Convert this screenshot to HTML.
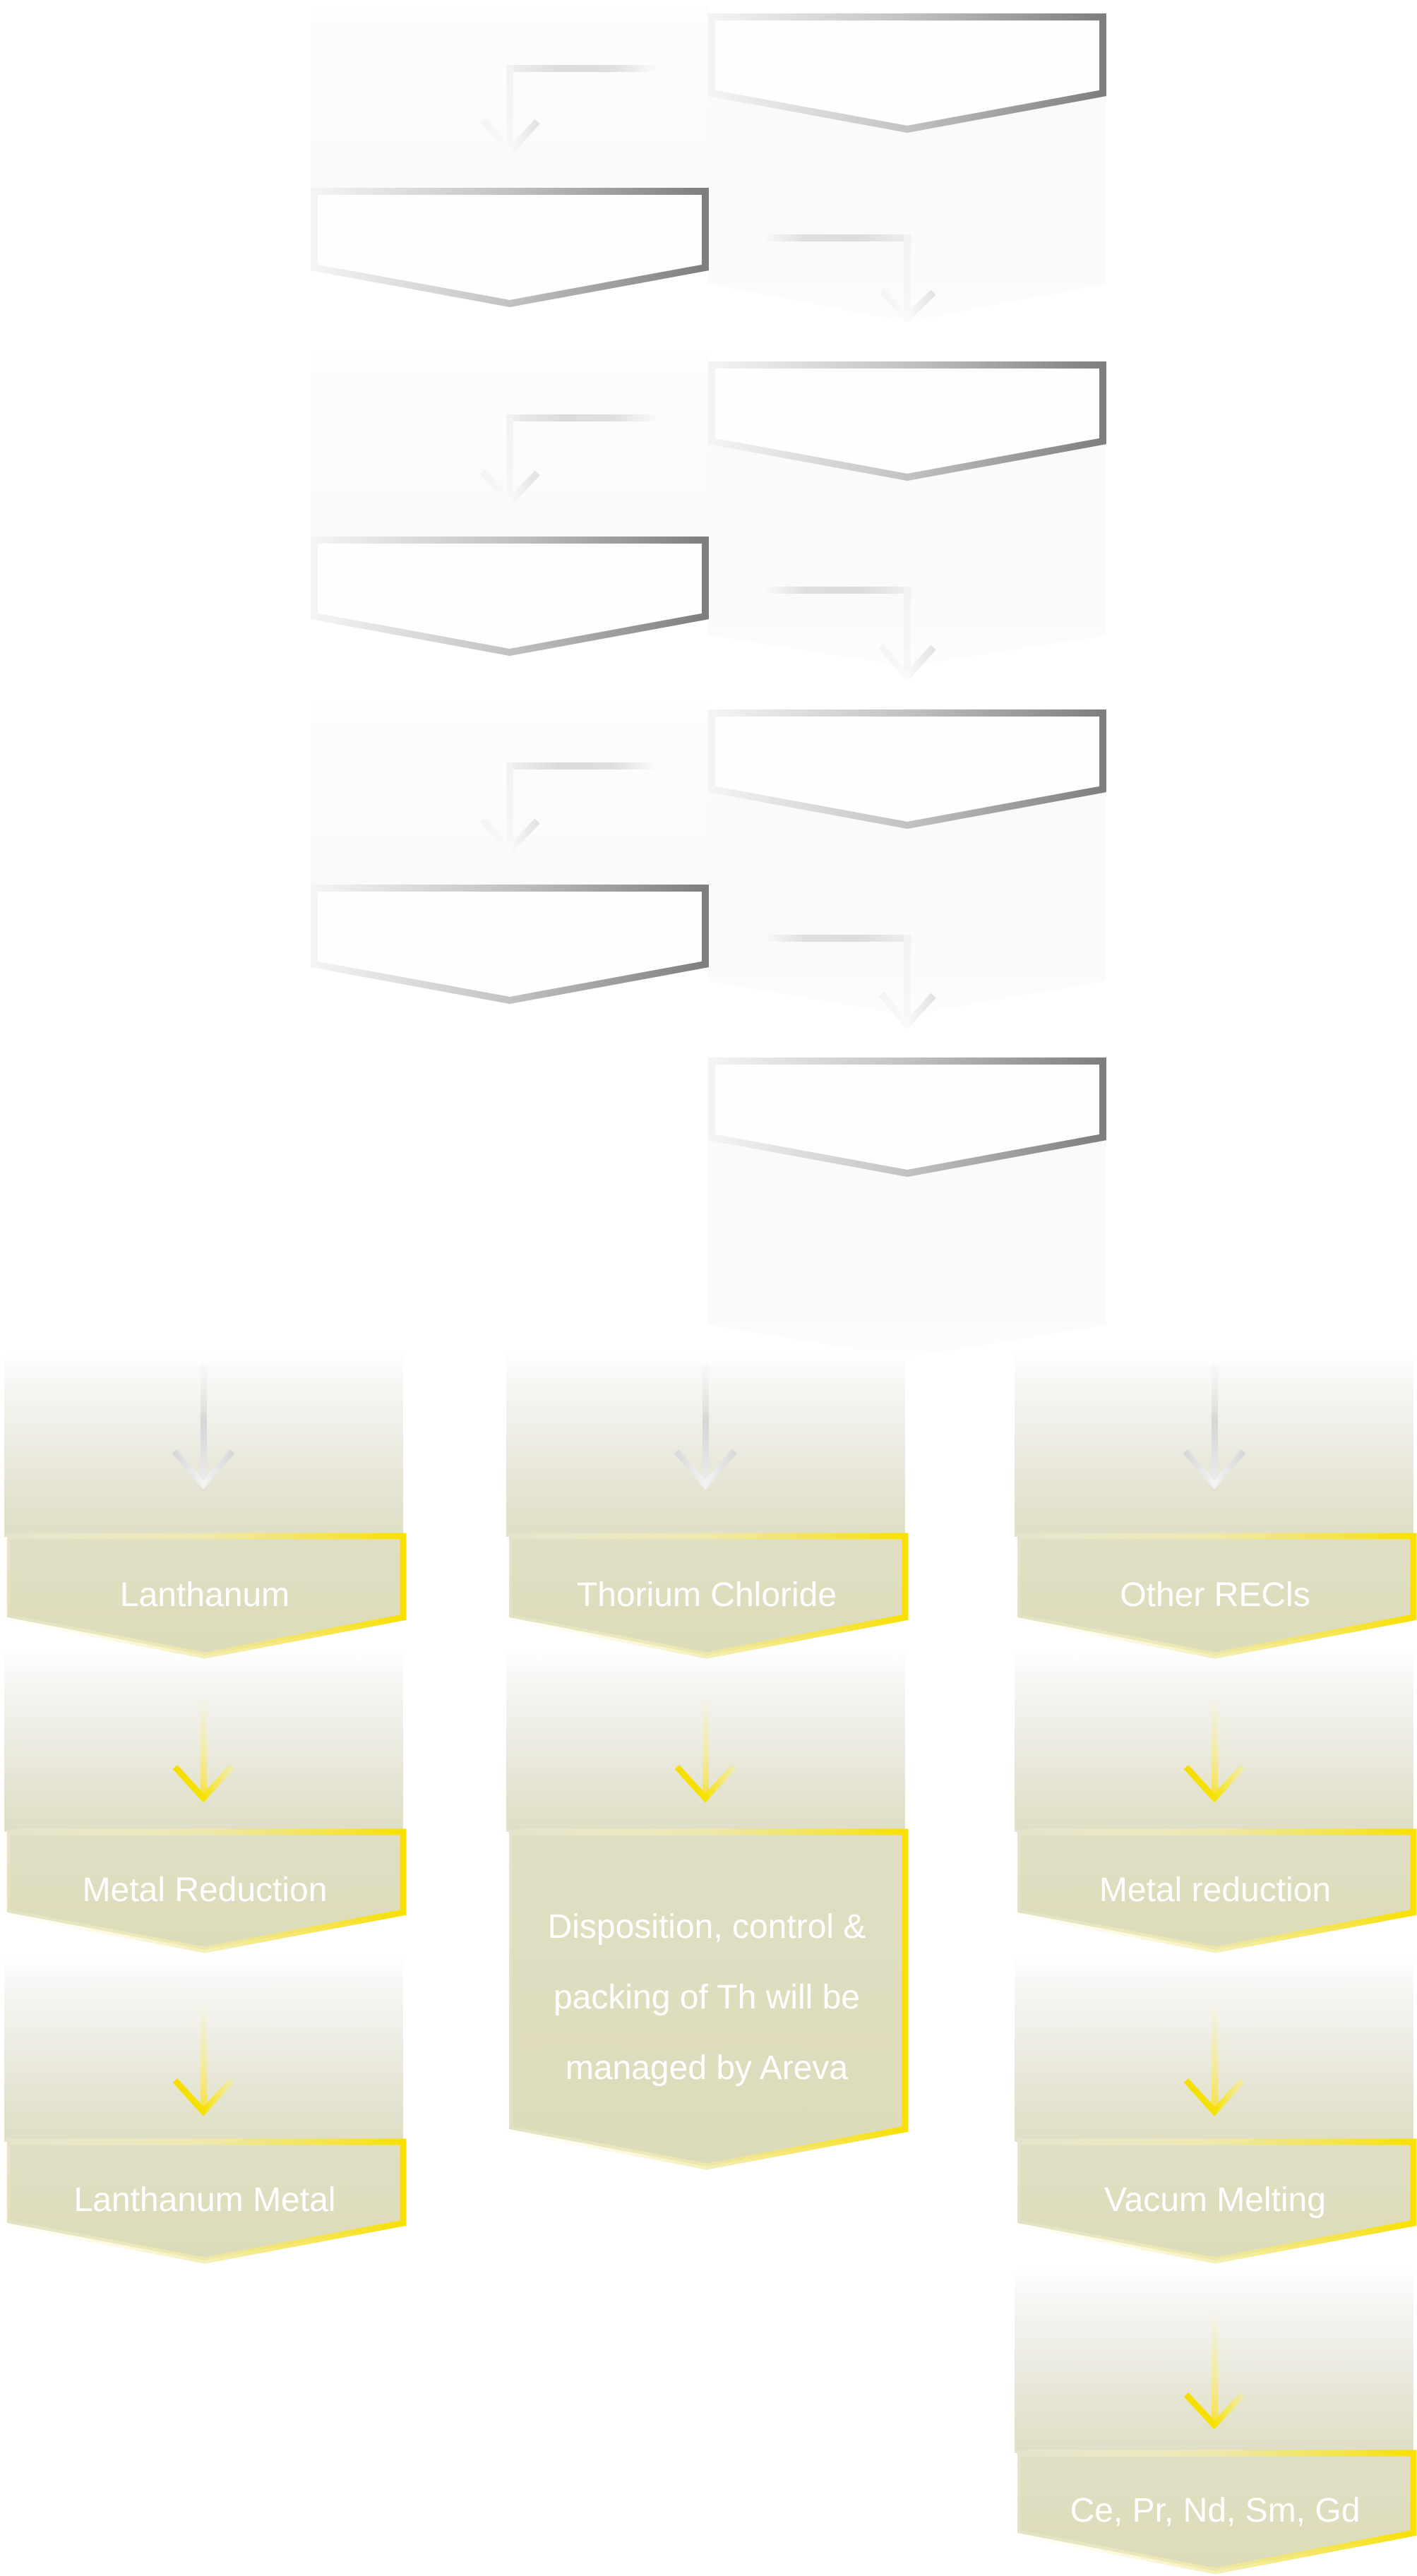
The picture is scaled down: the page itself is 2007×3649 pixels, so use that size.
<!DOCTYPE html>
<html>
<head>
<meta charset="utf-8">
<style>
  html,body{margin:0;padding:0;background:#ffffff;}
  svg{display:block;}
  .lbl{font-family:"Liberation Sans",Arial,sans-serif;font-size:48px;fill:#ffffff;text-anchor:middle;}
  .glbl{font-family:"Liberation Sans",Arial,sans-serif;font-size:46px;fill:#fdfdfd;text-anchor:middle;}
</style>
</head>
<body>
<svg width="2007" height="3649" viewBox="0 0 2007 3649" xmlns="http://www.w3.org/2000/svg">
  <defs>
    <linearGradient id="gStroke" x1="0" y1="0" x2="1" y2="0">
      <stop offset="0" stop-color="#f4f4f4"/>
      <stop offset="0.5" stop-color="#c2c2c2"/>
      <stop offset="1" stop-color="#7e7e7e"/>
    </linearGradient>
    <linearGradient id="gPanelL" x1="0" y1="0" x2="0" y2="1">
      <stop offset="0" stop-color="#fdfdfd"/>
      <stop offset="1" stop-color="#f9f9f9"/>
    </linearGradient>
    <linearGradient id="gPanelR" x1="0" y1="0" x2="0" y2="1">
      <stop offset="0" stop-color="#fafafa"/>
      <stop offset="0.8" stop-color="#fafafa"/>
      <stop offset="1" stop-color="#fdfdfd"/>
    </linearGradient>
    <linearGradient id="gHlineL" x1="0" y1="0" x2="1" y2="0">
      <stop offset="0" stop-color="#efefef"/>
      <stop offset="0.35" stop-color="#dcdcdc"/>
      <stop offset="0.7" stop-color="#dedede"/>
      <stop offset="1" stop-color="#fbfbfb"/>
    </linearGradient>
    <linearGradient id="gHlineR" x1="0" y1="0" x2="1" y2="0">
      <stop offset="0" stop-color="#fbfbfb"/>
      <stop offset="0.3" stop-color="#dedede"/>
      <stop offset="0.65" stop-color="#dcdcdc"/>
      <stop offset="1" stop-color="#efefef"/>
    </linearGradient>
    <linearGradient id="gHeadTop" x1="0" y1="0" x2="1" y2="0">
      <stop offset="0" stop-color="#f4f4f4"/>
      <stop offset="0.5" stop-color="#fafafa"/>
      <stop offset="1" stop-color="#e2e2e2"/>
    </linearGradient>
    <linearGradient id="gYStroke" x1="0" y1="0" x2="1" y2="0">
      <stop offset="0" stop-color="#fffce0" stop-opacity="0.15"/>
      <stop offset="0.5" stop-color="#f2eaa6" stop-opacity="0.8"/>
      <stop offset="1" stop-color="#f8e000"/>
    </linearGradient>
    <linearGradient id="gBPanel" x1="0" y1="0" x2="0" y2="1">
      <stop offset="0" stop-color="#ffffff"/>
      <stop offset="0.15" stop-color="#f7f7f5"/>
      <stop offset="0.45" stop-color="#eeede5"/>
      <stop offset="0.75" stop-color="#e5e4d2"/>
      <stop offset="1" stop-color="#dfdec5"/>
    </linearGradient>
    <linearGradient id="gBoxFill" x1="0" y1="0" x2="0" y2="1">
      <stop offset="0" stop-color="#e0dfc4"/>
      <stop offset="1" stop-color="#dcdbb9"/>
    </linearGradient>
    <linearGradient id="gGrayV" x1="0" y1="0" x2="0" y2="1">
      <stop offset="0" stop-color="#f4f4f4" stop-opacity="0.3"/>
      <stop offset="0.5" stop-color="#d6d6d6"/>
      <stop offset="1" stop-color="#ebebeb"/>
    </linearGradient>
    <linearGradient id="gGrayHead" x1="0" y1="0" x2="1" y2="0">
      <stop offset="0" stop-color="#d8d8d8"/>
      <stop offset="0.5" stop-color="#f3f3f3"/>
      <stop offset="1" stop-color="#d8d8d8"/>
    </linearGradient>
    <linearGradient id="gYellowV" x1="0" y1="0" x2="0" y2="1">
      <stop offset="0" stop-color="#f8f2b0" stop-opacity="0"/>
      <stop offset="0.6" stop-color="#f5eb95" stop-opacity="0.8"/>
      <stop offset="1" stop-color="#f6e14a"/>
    </linearGradient>
    <linearGradient id="gYellowHead" x1="0" y1="0" x2="1" y2="0">
      <stop offset="0" stop-color="#f6dd00"/>
      <stop offset="0.5" stop-color="#f6e200"/>
      <stop offset="1" stop-color="#f3eca6" stop-opacity="0.8"/>
    </linearGradient>
    <linearGradient id="gFaintV" x1="0" y1="0" x2="0" y2="1">
      <stop offset="0" stop-color="#f2f2f2"/>
      <stop offset="1" stop-color="#f7f7f7"/>
    </linearGradient>
  </defs>

  <!-- ================= TOP GREY SECTION ================= -->
  <rect x="440" y="8" width="564" height="320" fill="url(#gPanelL)"/>
  <rect x="440" y="502" width="564" height="320" fill="url(#gPanelL)"/>
  <rect x="440" y="995" width="564" height="320" fill="url(#gPanelL)"/>

  <polygon points="1003,129 1567,129 1567,402 1285,456 1003,402" fill="url(#gPanelR)"/>
  <polygon points="1003,622 1567,622 1567,900 1285,944 1003,900" fill="url(#gPanelR)"/>
  <polygon points="1003,1115 1567,1115 1567,1390 1285,1438 1003,1390" fill="url(#gPanelR)"/>
  <polygon points="1003,1608 1567,1608 1567,1877 1285,1923 1003,1877" fill="url(#gPanelR)"/>

  <rect x="717" y="92" width="213" height="10" fill="url(#gHlineL)"/>
  <rect x="717" y="92" width="10" height="120" fill="url(#gFaintV)"/>
  <rect x="717" y="587" width="213" height="10" fill="url(#gHlineL)"/>
  <rect x="717" y="587" width="10" height="119" fill="url(#gFaintV)"/>
  <rect x="717" y="1080" width="213" height="10" fill="url(#gHlineL)"/>
  <rect x="717" y="1080" width="10" height="119" fill="url(#gFaintV)"/>
  <g fill="none" stroke-width="10">
    <polyline points="684,170 722,215 761,172" stroke="url(#gHeadTop)"/>
    <polyline points="684,668 722,711 761,670" stroke="url(#gHeadTop)"/>
    <polyline points="684,1161 722,1204 761,1163" stroke="url(#gHeadTop)"/>
  </g>

  <rect x="1078" y="332" width="212" height="10" fill="url(#gHlineR)"/>
  <rect x="1280" y="332" width="10" height="113" fill="url(#gFaintV)"/>
  <rect x="1080" y="831" width="210" height="10" fill="url(#gHlineR)"/>
  <rect x="1280" y="831" width="10" height="124" fill="url(#gFaintV)"/>
  <rect x="1080" y="1324" width="210" height="10" fill="url(#gHlineR)"/>
  <rect x="1280" y="1324" width="10" height="124" fill="url(#gFaintV)"/>
  <g fill="none" stroke-width="10">
    <polyline points="1249,412 1285,450 1322,414" stroke="url(#gHeadTop)"/>
    <polyline points="1248,915 1285,958 1322,917" stroke="url(#gHeadTop)"/>
    <polyline points="1248,1408 1285,1451 1322,1410" stroke="url(#gHeadTop)"/>
  </g>

  <g fill="#fefefe" stroke="url(#gStroke)" stroke-width="10" stroke-linejoin="miter">
    <path d="M1008,24 H1562 V132 L1285,183 L1008,132 Z"/>
    <path d="M1008,517 H1562 V625 L1285,676 L1008,625 Z"/>
    <path d="M1008,1010 H1562 V1118 L1285,1169 L1008,1118 Z"/>
    <path d="M1008,1503 H1562 V1611 L1285,1662 L1008,1611 Z"/>
    <path d="M445,271 H999 V379 L722,430 L445,379 Z"/>
    <path d="M445,765 H999 V873 L722,924 L445,873 Z"/>
    <path d="M445,1258 H999 V1366 L722,1417 L445,1366 Z"/>
  </g>

  <text class="glbl" x="1285" y="114">Ore</text>
  <text class="glbl" x="722" y="361">Crusher</text>
  <text class="glbl" x="1285" y="607">Mill</text>
  <text class="glbl" x="722" y="831">Flotation</text>
  <text class="glbl" x="722" y="876">Process</text>
  <text class="glbl" x="1285" y="1076">Flotation</text>
  <text class="glbl" x="1285" y="1121">Concentrate</text>
  <text class="glbl" x="722" y="1324">CWMR's</text>
  <text class="glbl" x="722" y="1369">Carbo-Chlorination</text>
  <text class="glbl" x="1285" y="1569">RECl's</text>
  <text class="glbl" x="1285" y="1614">Chloride Mixture</text>

  <!-- ================= BOTTOM YELLOW SECTION ================= -->
  <rect x="6" y="1915" width="565" height="262" fill="url(#gBPanel)"/>
  <rect x="717" y="1915" width="565" height="262" fill="url(#gBPanel)"/>
  <rect x="1437" y="1915" width="565" height="262" fill="url(#gBPanel)"/>

  <rect x="6" y="2337" width="565" height="258" fill="url(#gBPanel)"/>
  <rect x="717" y="2337" width="565" height="258" fill="url(#gBPanel)"/>
  <rect x="1437" y="2337" width="565" height="258" fill="url(#gBPanel)"/>

  <rect x="6" y="2770" width="565" height="264" fill="url(#gBPanel)"/>
  <rect x="1437" y="2770" width="565" height="264" fill="url(#gBPanel)"/>

  <rect x="1437" y="3212" width="565" height="263" fill="url(#gBPanel)"/>

  <rect x="284" y="1931" width="9" height="168" fill="url(#gGrayV)"/>
  <rect x="995" y="1931" width="9" height="168" fill="url(#gGrayV)"/>
  <rect x="1716" y="1931" width="9" height="168" fill="url(#gGrayV)"/>
  <g fill="none" stroke-width="9">
    <polyline points="247,2056 288,2103 329,2056" stroke="url(#gGrayHead)"/>
    <polyline points="958,2056 999,2103 1040,2056" stroke="url(#gGrayHead)"/>
    <polyline points="1679,2056 1720,2103 1761,2056" stroke="url(#gGrayHead)"/>
  </g>

  <rect x="284" y="2400" width="9" height="143" fill="url(#gYellowV)"/>
  <rect x="995" y="2400" width="9" height="143" fill="url(#gYellowV)"/>
  <rect x="1716" y="2400" width="9" height="143" fill="url(#gYellowV)"/>
  <rect x="284" y="2830" width="9" height="157" fill="url(#gYellowV)"/>
  <rect x="1716" y="2830" width="9" height="157" fill="url(#gYellowV)"/>
  <rect x="1716" y="3270" width="9" height="161" fill="url(#gYellowV)"/>
  <g fill="none" stroke-width="9">
    <polyline points="248,2503 288,2547 328,2503" stroke="url(#gYellowHead)"/>
    <polyline points="959,2503 999,2547 1039,2503" stroke="url(#gYellowHead)"/>
    <polyline points="1680,2503 1720,2547 1760,2503" stroke="url(#gYellowHead)"/>
    <polyline points="248,2947 288,2991 328,2947" stroke="url(#gYellowHead)"/>
    <polyline points="1680,2947 1720,2991 1760,2947" stroke="url(#gYellowHead)"/>
    <polyline points="1680,3392 1720,3435 1760,3392" stroke="url(#gYellowHead)"/>
  </g>

  <g fill="url(#gBoxFill)" stroke="url(#gYStroke)" stroke-width="9" stroke-linejoin="miter">
    <path d="M10,2176 H571 V2291 L290,2345 L10,2291 Z"/>
    <path d="M721,2176 H1282 V2291 L1001,2345 L721,2291 Z"/>
    <path d="M1441,2176 H2002 V2291 L1721,2345 L1441,2291 Z"/>
    <path d="M10,2595 H571 V2709 L290,2762 L10,2709 Z"/>
    <path d="M721,2595 H1282 V3016 L1001,3069 L721,3016 Z"/>
    <path d="M1441,2595 H2002 V2709 L1721,2762 L1441,2709 Z"/>
    <path d="M10,3034 H571 V3149 L290,3202 L10,3149 Z"/>
    <path d="M1441,3034 H2002 V3149 L1721,3202 L1441,3149 Z"/>
    <path d="M1441,3475 H2002 V3588 L1721,3642 L1441,3588 Z"/>
  </g>

  <text class="lbl" x="290" y="2275">Lanthanum</text>
  <text class="lbl" x="1001" y="2275">Thorium Chloride</text>
  <text class="lbl" x="1721" y="2275">Other RECls</text>

  <text class="lbl" x="290" y="2693">Metal Reduction</text>
  <text class="lbl" x="1721" y="2693">Metal reduction</text>

  <text class="lbl" x="1001" y="2745">Disposition, control &amp;</text>
  <text class="lbl" x="1001" y="2845">packing of Th will be</text>
  <text class="lbl" x="1001" y="2945">managed by Areva</text>

  <text class="lbl" x="290" y="3132">Lanthanum Metal</text>
  <text class="lbl" x="1721" y="3132">Vacum Melting</text>

  <text class="lbl" x="1721" y="3572">Ce, Pr, Nd, Sm, Gd</text>
</svg>
</body>
</html>
